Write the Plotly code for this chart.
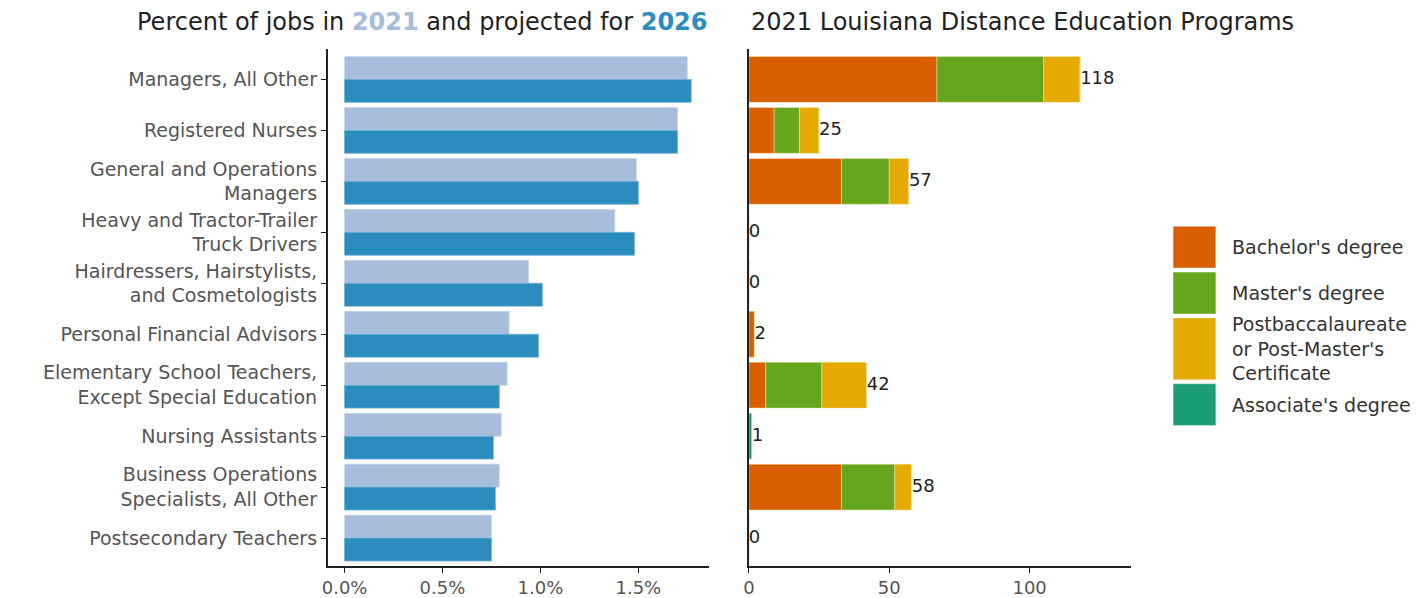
import plotly.graph_objects as go
from plotly.subplots import make_subplots

W, H = 1426, 598

occupations = [
    "Managers, All Other",
    "Registered Nurses",
    "General and Operations<br>Managers",
    "Heavy and Tractor-Trailer<br>Truck Drivers",
    "Hairdressers, Hairstylists,<br>and Cosmetologists",
    "Personal Financial Advisors",
    "Elementary School Teachers,<br>Except Special Education",
    "Nursing Assistants",
    "Business Operations<br>Specialists, All Other",
    "Postsecondary Teachers",
]
pct_2021 = [1.75, 1.70, 1.49, 1.38, 0.94, 0.84, 0.83, 0.80, 0.79, 0.75]
pct_2026 = [1.77, 1.70, 1.50, 1.48, 1.01, 0.99, 0.79, 0.76, 0.77, 0.75]

bachelor = [67, 9, 33, 0, 0, 2, 6, 0, 33, 0]
master = [38, 9, 17, 0, 0, 0, 20, 0, 19, 0]
postbacc = [13, 7, 7, 0, 0, 0, 16, 0, 6, 0]
associate = [0, 0, 0, 0, 0, 0, 0, 1, 0, 0]
totals = [b + m + p + a for b, m, p, a in zip(bachelor, master, postbacc, associate)]

x_ticks_left = [0, 0.5, 1.0, 1.5]
x_tick_text_left = ["0.0%", "0.5%", "1.0%", "1.5%"]
x_ticks_right = [0, 50, 100]

legend_labels = ["Bachelor's degree", "Master's degree",
                 "Postbaccalaureate<br>or Post-Master's<br>Certificate", "Associate's degree"]

C2021 = "#a6bddb"
C2026 = "#2b8cbe"
COLORS = ["#d95f02", "#66a61e", "#e6ab02", "#1b9e77"]
FONT = "DejaVu Sans"
TICKCOL = "#555555"

fig = make_subplots(rows=1, cols=2)

fig.add_trace(go.Bar(y=occupations, x=pct_2021, orientation="h",
                     marker=dict(color=C2021, line=dict(color="#c9d6ea", width=0.8)),
                     name="2021", showlegend=False), row=1, col=1)
fig.add_trace(go.Bar(y=occupations, x=pct_2026, orientation="h",
                     marker=dict(color=C2026, line=dict(color="#6fb0d8", width=0.8)),
                     name="2026", showlegend=False), row=1, col=1)

# stacked bars on the right: same offsetgroup with cumulative bases
cum = [0] * len(occupations)
for vals, col, nm in zip([bachelor, master, postbacc, associate], COLORS, legend_labels):
    fig.add_trace(go.Bar(y=occupations, x=vals, base=list(cum), orientation="h",
                         marker=dict(color=col, line=dict(color="#f5e6b0", width=0.5)),
                         name=nm, showlegend=False, offsetgroup="r", width=0.9), row=1, col=2)
    cum = [c + v for c, v in zip(cum, vals)]

fig.add_trace(go.Scatter(y=occupations, x=totals, mode="text", text=[str(t) for t in totals],
                         textposition="middle right", textfont=dict(size=18, color="#222222", family=FONT),
                         showlegend=False, cliponaxis=False), row=1, col=2)


def px_x(p):
    return p / W


def px_y(p):
    return 1 - p / H


ydom = [px_y(568), px_y(49)]
yrange = [9.55, -0.6]

fig.update_layout(
    width=W, height=H,
    margin=dict(l=0, r=0, t=0, b=0),
    paper_bgcolor="white", plot_bgcolor="white",
    barmode="group", bargap=0.1, bargroupgap=0,
    font=dict(family=FONT, size=19, color=TICKCOL),
    hovermode=False,
)

fig.update_xaxes(domain=[px_x(323), px_x(706)], range=[-0.0864, 1.861], tickvals=x_ticks_left,
                 ticktext=x_tick_text_left, showline=True, linecolor="#222222", linewidth=1.5,
                 ticks="outside", ticklen=5, tickcolor="#222222", showgrid=False, zeroline=False,
                 tickfont=dict(size=18, color=TICKCOL), row=1, col=1)
fig.update_xaxes(domain=[px_x(746), px_x(1130)], range=[0, 136.2], tickvals=x_ticks_right,
                 showline=True, linecolor="#222222", linewidth=1.5,
                 ticks="outside", ticklen=5, tickcolor="#222222", showgrid=False, zeroline=False,
                 tickfont=dict(size=18, color=TICKCOL), row=1, col=2)
fig.update_yaxes(domain=ydom, categoryorder="array", categoryarray=occupations, range=yrange,
                 showline=True, linecolor="#222222", linewidth=1.5, ticks="outside", ticklen=5,
                 tickcolor="#222222", showgrid=False, tickfont=dict(size=19, color=TICKCOL), row=1, col=1)
fig.update_yaxes(domain=ydom, categoryorder="array", categoryarray=occupations, range=yrange,
                 showline=True, linecolor="#222222", linewidth=1.5, ticks="", showticklabels=False,
                 showgrid=False, row=1, col=2)

annotations = [
    dict(x=px_x(706), y=px_y(22), xref="paper", yref="paper", xanchor="right", yanchor="middle",
         text="Percent of jobs in <b><span style='color:%s'>2021</span></b> and projected for <b><span style='color:%s'>2026</span></b>" % (C2021, C2026),
         showarrow=False, font=dict(size=24, color="#222222", family=FONT)),
    dict(x=px_x(746), y=px_y(22), xref="paper", yref="paper", xanchor="left", yanchor="middle",
         text="2021 Louisiana Distance Education Programs",
         showarrow=False, font=dict(size=24, color="#222222", family=FONT)),
]

boxes = [(227, 269), (273, 315), (319, 381), (385, 427)]
shapes = []
for (y0, y1), col, lab in zip(boxes, COLORS, legend_labels):
    shapes.append(dict(type="rect", xref="paper", yref="paper", x0=px_x(1172), x1=px_x(1215),
                       y0=px_y(y1), y1=px_y(y0), fillcolor=col, line=dict(color="#eeeeee", width=0.5)))
    annotations.append(dict(x=px_x(1229), y=px_y((y0 + y1) / 2), xref="paper", yref="paper",
                            xanchor="left", yanchor="middle", align="left", text=lab, showarrow=False,
                            font=dict(size=19, color="#333333", family=FONT)))

fig.update_layout(annotations=annotations, shapes=shapes)

fig.write_html("out.html", config={"displayModeBar": False},
               post_script="document.body.style.margin='0';document.body.style.overflow='hidden';")
